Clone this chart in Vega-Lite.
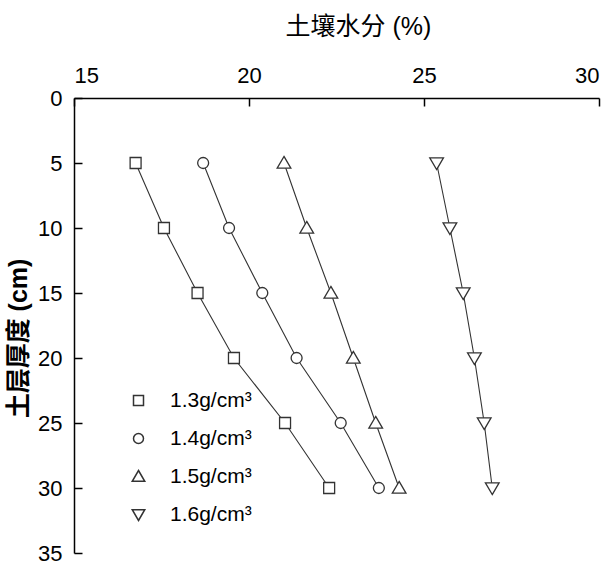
{
  "$schema": "https://vega.github.io/schema/vega-lite/v6.json",
  "width": 525,
  "height": 455,
  "autosize": {"type": "none"},
  "padding": {"left": 74, "top": 98, "right": 15, "bottom": 26},
  "background": "white",
  "config": {
    "view": {"stroke": null},
    "font": "Liberation Sans, Noto Sans CJK SC",
    "axis": {
      "grid": false,
      "domainColor": "black",
      "domainWidth": 1.5,
      "tickColor": "black",
      "tickWidth": 1.5,
      "tickSize": -8,
      "labelFont": "Liberation Sans",
      "labelFontSize": 22,
      "labelColor": "black",
      "titleColor": "black",
      "titleFont": "Liberation Sans, Noto Sans CJK SC",
      "titleFontSize": 25
    }
  },
  "data": {
    "values": [
      {"density": "1.3g/cm³", "depth": 5, "moisture": 16.76},
      {"density": "1.3g/cm³", "depth": 10, "moisture": 17.57},
      {"density": "1.3g/cm³", "depth": 15, "moisture": 18.53},
      {"density": "1.3g/cm³", "depth": 20, "moisture": 19.57},
      {"density": "1.3g/cm³", "depth": 25, "moisture": 21.03},
      {"density": "1.3g/cm³", "depth": 30, "moisture": 22.29},
      {"density": "1.4g/cm³", "depth": 5, "moisture": 18.69},
      {"density": "1.4g/cm³", "depth": 10, "moisture": 19.43},
      {"density": "1.4g/cm³", "depth": 15, "moisture": 20.38},
      {"density": "1.4g/cm³", "depth": 20, "moisture": 21.36},
      {"density": "1.4g/cm³", "depth": 25, "moisture": 22.62},
      {"density": "1.4g/cm³", "depth": 30, "moisture": 23.71},
      {"density": "1.5g/cm³", "depth": 5, "moisture": 21.0},
      {"density": "1.5g/cm³", "depth": 10, "moisture": 21.65},
      {"density": "1.5g/cm³", "depth": 15, "moisture": 22.34},
      {"density": "1.5g/cm³", "depth": 20, "moisture": 22.98},
      {"density": "1.5g/cm³", "depth": 25, "moisture": 23.62},
      {"density": "1.5g/cm³", "depth": 30, "moisture": 24.29},
      {"density": "1.6g/cm³", "depth": 5, "moisture": 25.36},
      {"density": "1.6g/cm³", "depth": 10, "moisture": 25.74},
      {"density": "1.6g/cm³", "depth": 15, "moisture": 26.12},
      {"density": "1.6g/cm³", "depth": 20, "moisture": 26.44},
      {"density": "1.6g/cm³", "depth": 25, "moisture": 26.72},
      {"density": "1.6g/cm³", "depth": 30, "moisture": 26.95}
    ]
  },
  "encoding": {
    "x": {
      "field": "moisture",
      "type": "quantitative",
      "scale": {"domain": [15, 30], "nice": false, "zero": false},
      "axis": {"orient": "top", "values": [15, 20, 25, 30], "title": "土壤水分 (%)", "titleFontWeight": "normal", "labelPadding": 18.5, "titleX": 284, "titleY": -72, "titleAlign": "center", "titleBaseline": "middle"}
    },
    "y": {
      "field": "depth",
      "type": "quantitative",
      "scale": {"domain": [0, 35], "nice": false, "zero": false, "reverse": true},
      "axis": {"values": [0, 5, 10, 15, 20, 25, 30, 35], "title": "土层厚度 (cm)", "titleFontWeight": "bold", "labelPadding": 20, "titleX": -56, "titleY": 240, "titleAngle": 270, "titleAlign": "center", "titleBaseline": "middle"}
    }
  },
  "layer": [
    {
      "mark": {"type": "line", "color": "#333333", "strokeWidth": 1.1},
      "encoding": {
        "detail": {"field": "density", "type": "nominal"},
        "order": {"field": "depth", "type": "quantitative"}
      }
    },
    {
      "mark": {"type": "point", "filled": true, "color": "white", "stroke": "#333333", "strokeWidth": 1.3, "size": 120, "opacity": 1},
      "encoding": {
        "shape": {
          "field": "density",
          "type": "nominal",
          "scale": {"range": ["square", "circle", "M0,-1.2L1.25,0.95L-1.25,0.95Z", "M0,1.2L1.25,-0.95L-1.25,-0.95Z"]},
          "legend": {
            "orient": "none",
            "legendX": 54,
            "legendY": 292,
            "title": null,
            "labelOffset": 21,
            "labelFont": "Liberation Sans",
            "labelFontSize": 21,
            "labelColor": "black",
            "rowPadding": 16,
            "labelLimit": 300,
            "encode": {
              "symbols": {
                "opacity": {"value": 1},
                "stroke": {"value": "#333333"},
                "strokeWidth": {"value": 1.3},
                "fill": {"value": "white"},
                "size": {"value": 144},
                "shape": {"signal": "datum.value == '1.3g/cm³' ? 'M-4.1,0H-1.3M1.3,0H4.1M-0.9,-0.9H0.9V0.9H-0.9Z' : datum.value == '1.4g/cm³' ? 'M-4.1,0H-1.3M1.3,0H4.1M0.95,0A0.95,1.05,0,1,1,-0.95,0A0.95,1.05,0,1,1,0.95,0Z' : datum.value == '1.5g/cm³' ? 'M-4.1,0H-1.3M1.3,0H4.1M0,-0.95L1.05,0.75L-1.05,0.75Z' : 'M-4.1,0H-1.3M1.3,0H4.1M0,0.95L1.05,-0.75L-1.05,-0.75Z'"}
              }
            }
          }
        }
      }
    }
  ]
}
